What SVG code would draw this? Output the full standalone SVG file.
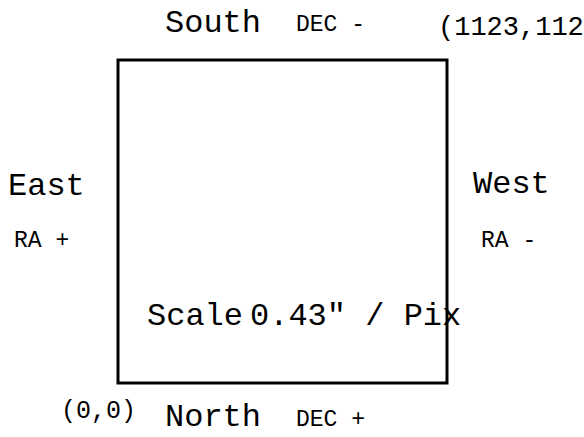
<svg xmlns="http://www.w3.org/2000/svg" width="584" height="437" viewBox="0 0 584 437">
<style>
text{font-family:"Liberation Mono","Courier New",monospace;fill:#000}
.big{font-size:32px}
.small{font-size:23px}
.coord{font-size:27px}
.orig{font-size:25px}
.scale{font-size:32px}
</style>
<rect width="584" height="437" fill="#fff"/>
<g id="frame">
<rect x="118" y="60" width="329" height="323" fill="none" stroke="#000" stroke-width="3"/>
</g>
<g id="south"><text class="big" x="165" y="32">South</text><text class="small" x="296" y="31">DEC -</text></g>
<g id="corner-tr"><text class="coord" x="438" y="35">(1123,112</text></g>
<g id="east"><text class="big" x="8" y="195">East</text><text class="small" x="14" y="247">RA +</text></g>
<g id="west"><text class="big" x="473" y="193">West</text><text class="small" x="481" y="247">RA -</text></g>
<g id="scale"><text class="scale" x="147" y="325">Scale</text><text class="scale" x="250" y="325">0.43" / Pix</text></g>
<g id="origin"><text class="orig" x="61" y="418">(0,0)</text></g>
<g id="north"><text class="big" x="165" y="426">North</text><text class="small" x="296" y="426">DEC +</text></g>
</svg>
